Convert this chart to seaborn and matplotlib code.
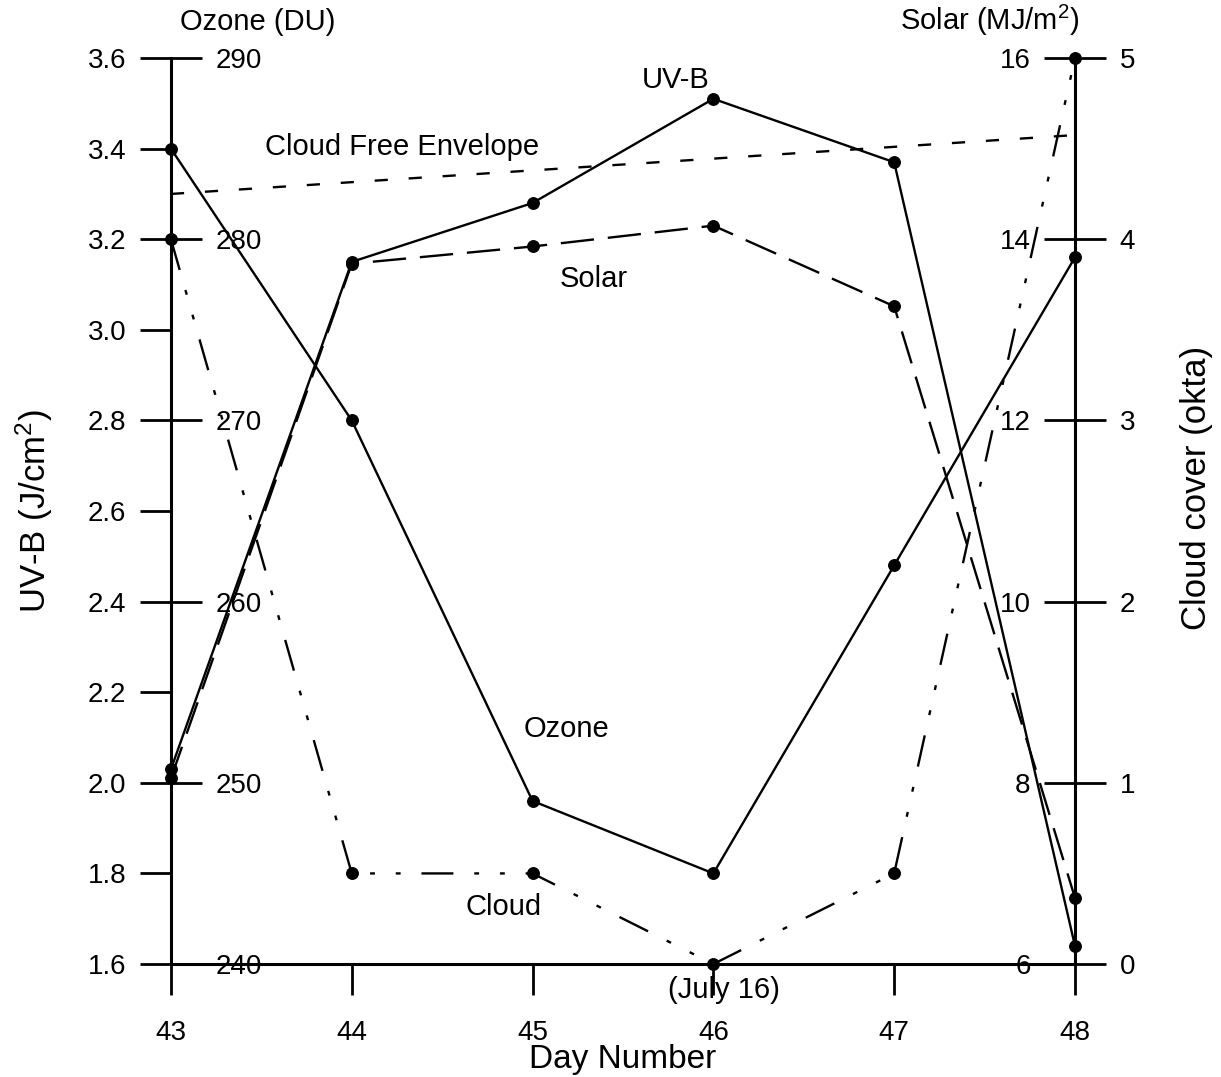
import matplotlib
matplotlib.use("Agg")
import matplotlib.pyplot as plt
import seaborn as sns

# values
days = [43, 44, 45, 46, 47, 48]
uvb = [2.03, 3.15, 3.28, 3.51, 3.37, 1.64]
ozone = [285, 270, 249, 245, 262, 279]
solar = [8.05, 13.73, 13.92, 14.15, 13.26, 6.73]
cloud = [4.0, 0.5, 0.5, 0.0, 0.5, 5.0]
env_days = [43, 48]
env_uvb = [3.30, 3.43]

uvb_ticks = [1.6, 1.8, 2.0, 2.2, 2.4, 2.6, 2.8, 3.0, 3.2, 3.4, 3.6]
ozone_ticks = [240, 250, 260, 270, 280, 290]
solar_ticks = [6, 8, 10, 12, 14, 16]
cloud_ticks = [0, 1, 2, 3, 4, 5]

sns.set_style("white")
plt.rcParams['font.family'] = ['Liberation Sans', 'DejaVu Sans']
plt.rcParams['mathtext.fontset'] = 'custom'
plt.rcParams['mathtext.rm'] = 'Liberation Sans'
plt.rcParams['mathtext.it'] = 'Liberation Sans'
plt.rcParams['lines.scale_dashes'] = False
plt.rcParams['text.color'] = 'black'
plt.rcParams['axes.labelcolor'] = 'black'
plt.rcParams['xtick.color'] = 'black'
plt.rcParams['ytick.color'] = 'black'

fig = plt.figure(figsize=(12.21, 10.77), dpi=100)
ax = fig.add_axes([0.1400, 0.1049, 0.7404, 0.8412])
ax_oz = ax.twinx()
ax_so = ax.twinx()
ax_cl = ax.twinx()

lw = 1.7
ms = 8.5
tick_kw = dict(length=22, width=2.0, color='black', labelcolor='black',
               labelsize=20, pad=10)

sns.lineplot(x=days, y=uvb, ax=ax, color='black', lw=lw, marker='o', ms=ms,
             mec='black', clip_on=False)
sns.lineplot(x=env_days, y=env_uvb, ax=ax, color='black', lw=lw,
             linestyle=(0, (9.5, 15)), clip_on=False)
sns.lineplot(x=days, y=ozone, ax=ax_oz, color='black', lw=lw, marker='o', ms=ms,
             mec='black', clip_on=False)
sns.lineplot(x=days, y=solar, ax=ax_so, color='black', lw=lw, marker='o', ms=ms,
             mec='black', linestyle=(0, (24, 10)), clip_on=False)
sns.lineplot(x=days, y=cloud, ax=ax_cl, color='black', lw=lw, marker='o', ms=ms,
             mec='black', linestyle=(0, (23, 15, 3.5, 15, 3.5, 15)), clip_on=False)

# main UV-B axis (left, ticks outward)
ax.set_xlim(43, 48)
ax.set_ylim(1.6, 3.6)
ax.set_xticks(days)
ax.set_yticks(uvb_ticks)
ax.set_yticklabels([f"{v:.1f}" for v in uvb_ticks])
ax.tick_params(axis='y', direction='out', left=True, **tick_kw)
ax.tick_params(axis='x', direction='out', bottom=True, length=22, width=2.0,
               color='black', labelcolor='black', labelsize=20, pad=18)
for s in ['top', 'right']:
    ax.spines[s].set_visible(False)
for s in ['left', 'bottom']:
    ax.spines[s].set_linewidth(2.2)
    ax.spines[s].set_color('black')
ax.set_xlabel('Day Number', fontsize=24, labelpad=-1)
ax.set_ylabel('UV-B (J/cm$^2$)', fontsize=25)
ax.yaxis.set_label_coords(-0.128, 0.5)

# ozone axis: ticks pointing into the plot from the left spine
ax_oz.set_ylim(240, 290)
ax_oz.set_yticks(ozone_ticks)
ax_oz.spines['right'].set_position(('axes', 0))
ax_oz.tick_params(axis='y', direction='out', right=True, **tick_kw)
ax_oz.set_ylabel('')

# solar axis: ticks pointing into the plot from the right spine
ax_so.set_ylim(6, 16)
ax_so.set_yticks(solar_ticks)
ax_so.yaxis.tick_left()
ax_so.spines['left'].set_position(('axes', 1))
ax_so.tick_params(axis='y', direction='out', left=True, right=False, **tick_kw)
ax_so.set_ylabel('')

# cloud axis: right, outward
ax_cl.set_ylim(0, 5)
ax_cl.set_yticks(cloud_ticks)
ax_cl.tick_params(axis='y', direction='out', right=True, **tick_kw)
ax_cl.spines['right'].set_linewidth(2.2)
ax_cl.spines['right'].set_color('black')
ax_cl.set_ylabel('Cloud cover (okta)', fontsize=25)
ax_cl.yaxis.set_label_coords(1.116, 0.526)

for a in [ax_oz, ax_so, ax_cl]:
    a.set_xlim(43, 48)
    for s in ['top', 'bottom', 'left']:
        a.spines[s].set_visible(False)
for a in [ax_oz, ax_so]:
    a.spines['right'].set_visible(False)
    a.spines['left'].set_visible(False)

txt = dict(fontsize=21, ha='center', va='center', color='black')
ax.text(45.79, 3.551, 'UV-B', **txt)
ax.text(44.28, 3.404, 'Cloud Free Envelope', **txt)
ax.text(45.34, 3.112, 'Solar', **txt)
ax.text(45.19, 2.119, 'Ozone', **txt)
ax.text(44.84, 1.726, 'Cloud', **txt)
ax.text(46.06, 1.543, '(July 16)', **txt)
ax.text(43.48, 3.679, 'Ozone (DU)', **txt)
ax.text(47.53, 3.684, 'Solar (MJ/m$^2$)', **txt)

fig.savefig('out.png', dpi=100)
